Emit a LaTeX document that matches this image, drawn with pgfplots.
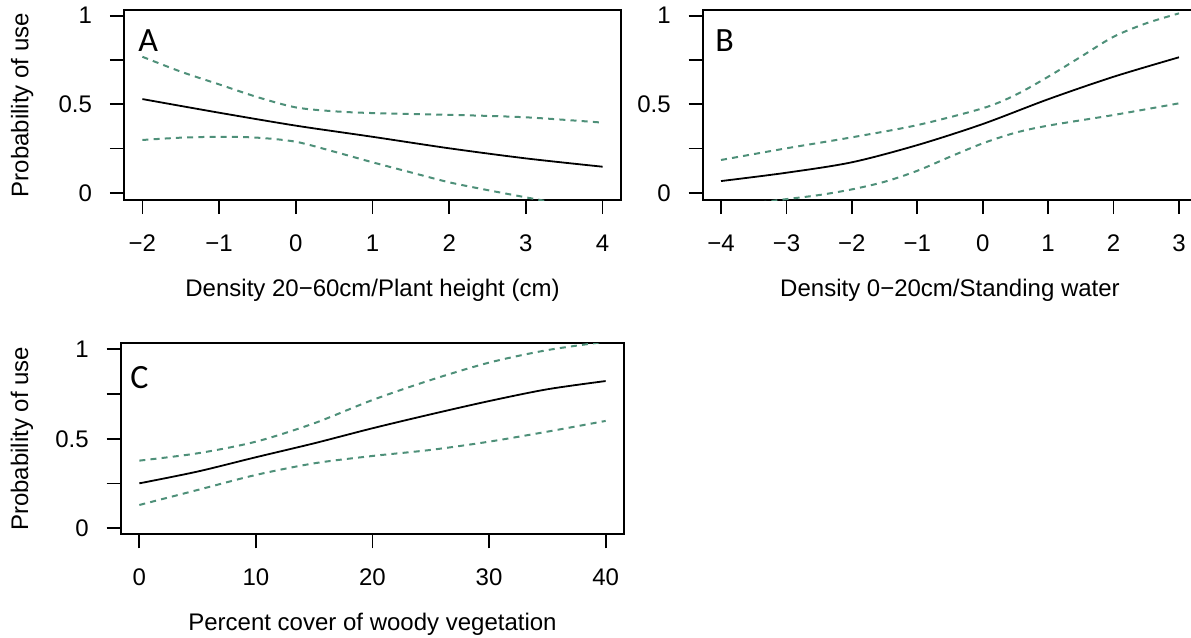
\documentclass[border=0pt]{standalone}
\usepackage{fontspec}
\setmainfont{Liberation Sans}
\newfontfamily\panelfont{Carlito}
\usepackage{pgfplots}
\pgfplotsset{compat=1.18}
\definecolor{ciGreen}{HTML}{4E9079}

\pgfplotsset{
  rplot/.style={
    scale only axis,
    axis line style={line width=0.9pt},
    tick style={line width=0.9pt, black},
    tick align=outside,
    major tick length=7pt,
    xtick pos=bottom, ytick pos=left,
    font=\fontsize{12}{14}\selectfont,
    /pgf/number format/assume math mode=true,
    ytick={0,0.25,0.5,0.75,1},
    yticklabels={0,,0.5,,1},
    xticklabel style={anchor=base, yshift=-18.5pt},
    yticklabel style={anchor=east, xshift=-5.5pt},
    every axis x label/.style={at={(axis description cs:0.5,0)}, anchor=base, yshift=-48pt},
    every axis y label/.style={rotate=90, anchor=center},
    clip=true,
  },
  fit/.style={black, line width=0.9pt, smooth, no markers},
  ci/.style={ciGreen, line width=1pt, dash pattern=on 3pt off 2.6pt, smooth, no markers},
}

\begin{document}
\begin{tikzpicture}
\path[use as bounding box] (0,0) rectangle (595.5pt,-319pt);

% A
\begin{axis}[rplot, at={(62pt,-100pt)}, anchor=south west,
  width=248.5pt, height=95pt,
  xmin=-2.24, xmax=4.24, ymin=-0.041, ymax=1.032,
  xtick={-2,-1,0,1,2,3,4}, xticklabels={−2,−1,0,1,2,3,4},
  xlabel={Density 20−60cm/Plant height (cm)},
  ylabel={Probability of use},
  every axis y label/.append style={at={(axis description cs:-0.205,0.5)}}]
\addplot[fit] coordinates {(-2,0.529) (-1,0.452) (0,0.379) (1,0.316) (2,0.251) (3,0.194) (4,0.147)};
\addplot[ci] coordinates {(-2,0.768) (-1.5,0.684) (-1,0.612) (-0.5,0.540) (0,0.482) (0.5,0.460) (1,0.450) (2,0.440) (3,0.426) (4,0.396)};
\addplot[ci] coordinates {(-2,0.298) (-1.5,0.311) (-1,0.316) (-0.5,0.311) (0,0.288) (0.5,0.232) (1,0.172) (1.5,0.115) (2,0.059) (2.5,0.015) (3,-0.026) (3.3,-0.05)};
\end{axis}
\node[anchor=base west, inner sep=0] at (69pt,-25.5pt) {\panelfont\fontsize{17}{20}\selectfont A};

% B
\begin{axis}[rplot, at={(351.35pt,-100pt)}, anchor=south west,
  width=247.3pt, height=95pt,
  xmin=-4.28, xmax=3.28, ymin=-0.041, ymax=1.032,
  xtick={-4,-3,-2,-1,0,1,2,3}, xticklabels={−4,−3,−2,−1,0,1,2,3},
  xlabel={Density 0−20cm/Standing water}]
\addplot[fit] coordinates {(-4,0.066) (-3,0.113) (-2,0.172) (-1,0.269) (0,0.388) (1,0.528) (2,0.655) (3,0.765)};
\addplot[ci] coordinates {(-4,0.185) (-3,0.251) (-2,0.313) (-1,0.382) (0,0.477) (0.5,0.552) (1,0.655) (1.5,0.768) (2,0.881) (2.5,0.957) (3,1.013)};
\addplot[ci] coordinates {(-3.4,-0.055) (-3,-0.036) (-2.5,-0.013) (-2,0.019) (-1.5,0.062) (-1,0.124) (-0.5,0.203) (0,0.279) (0.5,0.339) (1,0.379) (2,0.439) (3,0.505)};
\end{axis}
\node[anchor=base west, inner sep=0] at (357.5pt,-25.5pt) {\panelfont\fontsize{17}{20}\selectfont B};

% C
\begin{axis}[rplot, at={(60.35pt,-267.15pt)}, anchor=south west,
  width=251.8pt, height=95.5pt,
  xmin=-1.6, xmax=41.6, ymin=-0.034, ymax=1.034,
  xtick={0,10,20,30,40}, xticklabels={0,10,20,30,40},
  xlabel={Percent cover of woody vegetation},
  ylabel={Probability of use},
  every axis y label/.append style={at={(axis description cs:-0.196,0.5)}}]
\addplot[fit] coordinates {(0,0.251) (5,0.317) (10,0.397) (15,0.475) (20,0.559) (25,0.637) (30,0.711) (35,0.777) (40,0.823)};
\addplot[ci] coordinates {(0,0.378) (5,0.419) (10,0.484) (15,0.587) (20,0.717) (25,0.829) (30,0.926) (35,0.996) (40,1.043)};
\addplot[ci] coordinates {(0,0.130) (5,0.214) (10,0.298) (15,0.363) (20,0.404) (25,0.438) (30,0.484) (35,0.540) (40,0.600)};
\end{axis}
\node[anchor=base west, inner sep=0] at (65pt,-194pt) {\panelfont\fontsize{17}{20}\selectfont C};
\end{tikzpicture}
\end{document}
